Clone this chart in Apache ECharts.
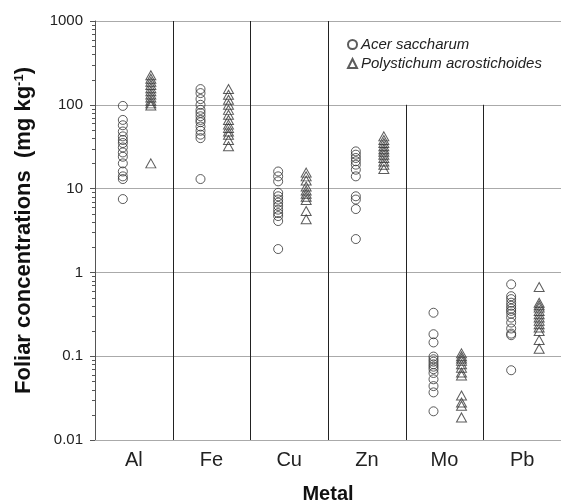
<!DOCTYPE html>
<html>
<head>
<meta charset="utf-8">
<script src="https://cdn.jsdelivr.net/npm/echarts@6/dist/echarts.min.js"></script>
<style>
html,body{margin:0;padding:0;background:#fff;}
#chart{width:561px;height:503px;}
</style>
</head>
<body>
<div id="chart"></div>
<script>
// ---- data ----
const categories = ['Al', 'Fe', 'Cu', 'Zn', 'Mo', 'Pb'];
const seriesNames = ['Acer saccharum', 'Polystichum acrostichoides'];
const yTickLabels = ['0.01', '0.1', '1', '10', '100', '1000'];

const acerAl = [97, 66, 57, 48, 42, 38, 35, 31, 27, 24, 20, 16, 14, 13, 7.5];
const acerFe = [154, 138, 117, 100, 87, 80, 73, 66, 62, 55, 49, 44, 40, 13];
const acerCu = [16, 14, 12.2, 8.9, 8.1, 7.4, 6.8, 6.2, 5.6, 5.1, 4.7, 4.1, 1.9];
const acerZn = [27.8, 25.4, 23.2, 21.2, 19.3, 16.8, 14, 8.1, 7.4, 5.7, 2.5];
const acerMo = [0.33, 0.183, 0.146, 0.099, 0.092, 0.086, 0.08, 0.075, 0.07, 0.063, 0.053, 0.044, 0.037, 0.022];
const acerPb = [0.72, 0.52, 0.48, 0.435, 0.4, 0.37, 0.347, 0.322, 0.289, 0.252, 0.214, 0.186, 0.178, 0.068];

const polyAl = [225, 205, 188, 172, 158, 145, 133, 122, 112, 104, 98, 20];
const polyFe = [154, 132, 115, 100, 87, 76, 66, 58, 53, 48, 44, 38, 32];
const polyCu = [15.5, 14, 12.5, 10.6, 9.5, 8.7, 8.0, 7.3, 5.4, 4.3];
const polyZn = [42, 38, 35, 32, 29.5, 27.5, 25.4, 23.2, 21.1, 19.3, 17.1];
const polyMo = [0.108, 0.1, 0.094, 0.088, 0.08, 0.073, 0.064, 0.059, 0.034, 0.028, 0.0256, 0.0186];
const polyPb = [0.67, 0.435, 0.405, 0.38, 0.347, 0.316, 0.289, 0.264, 0.24, 0.22, 0.2, 0.156, 0.123];

// top value reached by each category separator line (legend box interrupts the last two)
const separatorTops = [1000, 1000, 1000, 100, 100];

// ---- build ----
const acerByCat = [acerAl, acerFe, acerCu, acerZn, acerMo, acerPb];
const polyByCat = [polyAl, polyFe, polyCu, polyZn, polyMo, polyPb];
function toPoints(groups) {
  const out = [];
  groups.forEach((vals, i) => vals.forEach(v => out.push([i, v])));
  return out;
}
const separators = separatorTops.map((top, i) => [i + 1, top]);
const minorTicks = [];
for (let e = -2; e < 3; e++) {
  for (let m = 2; m <= 9; m++) minorTicks.push([0, +(m * Math.pow(10, e)).toPrecision(6)]);
}

const FONT = '"Liberation Sans", Arial, sans-serif';
const chart = echarts.init(document.getElementById('chart'), null, {renderer: 'canvas'});
chart.setOption({
  animation: false,
  backgroundColor: '#fff',
  textStyle: {fontFamily: FONT},
  grid: {left: 95, right: 0, top: 21, bottom: 63, containLabel: false, outerBoundsMode: 'none'},
  legend: {
    orient: 'vertical',
    left: 342,
    top: 32,
    itemWidth: 9,
    itemHeight: 9,
    itemGap: 4,
    data: seriesNames,
    textStyle: {fontFamily: FONT, fontSize: 15, fontStyle: 'italic', color: '#222', padding: [0, 0, 0, -1]},
    selectedMode: false
  },
  xAxis: [{
    type: 'category',
    data: categories,
    boundaryGap: true,
    axisLine: {show: true, lineStyle: {color: '#aaa', width: 1}},
    axisTick: {show: false},
    splitLine: {show: false},
    axisLabel: {fontFamily: FONT, fontSize: 20, color: '#222', margin: 10},
    name: 'Metal',
    nameLocation: 'middle',
    nameGap: 44,
    nameTextStyle: {fontFamily: FONT, fontSize: 20, fontWeight: 'bold', color: '#111'}
  }, {
    type: 'value',
    min: 0,
    max: categories.length,
    show: false
  }],
  yAxis: {
    type: 'log',
    logBase: 10,
    min: 0.01,
    max: 1000,
    axisLine: {show: true, lineStyle: {color: '#555', width: 1}},
    axisTick: {show: true, length: 5, lineStyle: {color: '#555'}},
    axisLabel: {
      fontFamily: FONT, fontSize: 15, color: '#222', margin: 12,
      formatter: v => {
        const s = String(+(+v).toPrecision(6));
        return yTickLabels.indexOf(s) >= 0 ? s : '';
      }
    },
    splitLine: {show: true, lineStyle: {color: '#aaa', width: 1}},
    name: 'Foliar concentrations  (mg kg{sup|-1})',
    nameLocation: 'middle',
    nameGap: 60,
    nameTextStyle: {
      fontFamily: FONT, fontSize: 22, fontWeight: 'bold', color: '#111',
      rich: {sup: {fontFamily: FONT, fontSize: 13, fontWeight: 'bold', color: '#111', verticalAlign: 'top', lineHeight: 14, padding: [0, 0, 10, 0]}}
    }
  },
  series: [{
    name: seriesNames[0],
    type: 'scatter',
    xAxisIndex: 0,
    data: toPoints(acerByCat),
    symbol: 'circle',
    symbolSize: 9,
    symbolOffset: [-11, 0],
    itemStyle: {color: 'rgba(255,255,255,0)', borderColor: '#333', borderWidth: 1},
    emphasis: {disabled: true},
    z: 5
  }, {
    name: seriesNames[1],
    type: 'scatter',
    xAxisIndex: 0,
    data: toPoints(polyByCat),
    symbol: 'triangle',
    symbolSize: [10, 9],
    symbolOffset: [17, 0],
    itemStyle: {color: 'rgba(255,255,255,0)', borderColor: '#333', borderWidth: 1},
    emphasis: {disabled: true},
    z: 5
  }, {
    type: 'custom',
    xAxisIndex: 1,
    yAxisIndex: 0,
    clip: false,
    silent: true,
    z: 3,
    data: separators,
    renderItem: (params, api) => {
      const p0 = api.coord([api.value(0), 0.01]);
      const p1 = api.coord([api.value(0), api.value(1)]);
      const x = Math.round(p0[0]) + 0.5;
      return {type: 'line', shape: {x1: x, y1: p0[1], x2: x, y2: p1[1]}, style: {stroke: '#222', lineWidth: 1}};
    }
  }, {
    type: 'custom',
    xAxisIndex: 1,
    yAxisIndex: 0,
    clip: false,
    silent: true,
    z: 3,
    data: minorTicks,
    renderItem: (params, api) => {
      const p = api.coord([api.value(0), api.value(1)]);
      const y = Math.round(p[1]) + 0.5;
      return {type: 'line', shape: {x1: p[0] - 3, y1: y, x2: p[0], y2: y}, style: {stroke: '#555', lineWidth: 1}};
    }
  }]
});
</script>
</body>
</html>
